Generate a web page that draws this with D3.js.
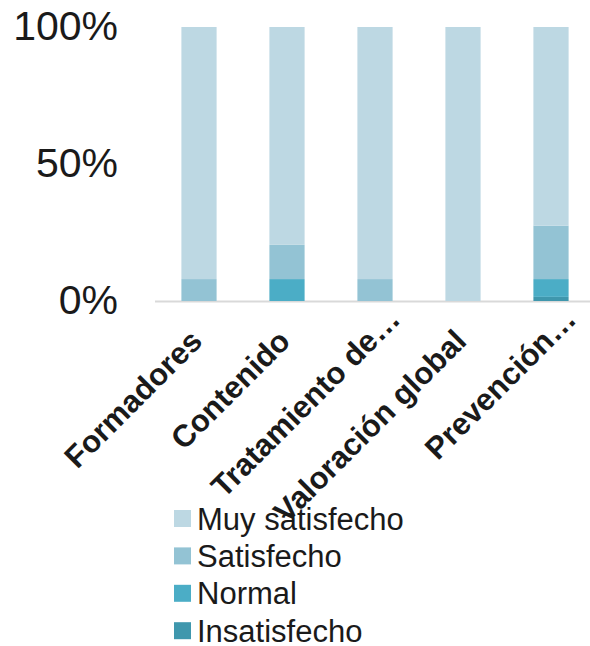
<!DOCTYPE html>
<html>
<head>
<meta charset="utf-8">
<script src="https://cdn.jsdelivr.net/npm/d3@7"></script>
<style>
  body { margin: 0; background: #fff; }
  svg { font-family: 'Liberation Sans', Arial, sans-serif; }
</style>
</head>
<body>
<div id="chart"></div>
<script>
// categories, series (bottom to top) and values in percent
const categories = ['Formadores', 'Contenido', 'Tratamiento de…', 'Valoración global', 'Prevención…']
const series = ['Insatisfecho', 'Normal', 'Satisfecho', 'Muy satisfecho']
const insatisfecho = [0, 0, 0, 0, 1.5]
const normal = [0, 8, 0, 0, 6.5]
const satisfecho = [8, 12.5, 8, 0, 19.5]
const muySatisfecho = [92, 79.5, 92, 100, 72.5]
const yTicks = [0, 0.5, 1]
const colors = ['#3f97ad', '#4badc6', '#93c3d4', '#bdd8e3']

const width = 590
const height = 646
const margin = { top: 27, left: 155 }
const y0 = 301

const table = categories.map(function (c, i) {
  return {
    cat: c,
    Insatisfecho: insatisfecho[i],
    Normal: normal[i],
    Satisfecho: satisfecho[i],
    'Muy satisfecho': muySatisfecho[i]
  }
})

const svg = d3.select('#chart')
  .append('svg')
  .attr('width', width)
  .attr('height', height)

const x = d3.scaleBand()
  .domain(categories)
  .range([margin.left, margin.left + 88 * categories.length])
  .paddingInner(0.6)
  .paddingOuter(0.3)

const y = d3.scaleLinear()
  .domain([0, 1])
  .range([y0, margin.top])

const color = d3.scaleOrdinal().domain(series).range(colors)

const stacked = d3.stack()
  .keys(series)
  .offset(d3.stackOffsetExpand)(table)

// baseline
svg.append('line')
  .attr('x1', margin.left)
  .attr('x2', width)
  .attr('y1', y(0) + 0.5)
  .attr('y2', y(0) + 0.5)
  .attr('stroke', '#d9d9d9')
  .attr('stroke-width', 2)

svg.append('g')
  .selectAll('g')
  .data(stacked)
  .join('g')
  .attr('fill', function (d) { return color(d.key) })
  .selectAll('rect')
  .data(function (d) { return d })
  .join('rect')
  .attr('x', function (d) { return x(d.data.cat) })
  .attr('y', function (d) { return y(d[1]) })
  .attr('width', x.bandwidth())
  .attr('height', function (d) { return y(d[0]) - y(d[1]) })

// y axis labels
const yAxis = svg.append('g')
  .attr('transform', 'translate(118,0)')
  .call(d3.axisLeft(y).tickValues(yTicks).tickFormat(d3.format('.0%')).tickSize(0).tickPadding(0))
yAxis.select('.domain').remove()
yAxis.selectAll('text')
  .attr('font-size', 41)
  .attr('font-family', "'Liberation Sans', Arial, sans-serif")
  .attr('fill', '#1a1a1a')
  .attr('dy', '0.3em')

// legend
const legend = svg.append('g')
  .selectAll('g')
  .data(series.slice().reverse())
  .join('g')
  .attr('transform', function (d, i) { return 'translate(174,' + (518.5 + i * 37.4) + ')' })

legend.append('rect')
  .attr('y', -8.5)
  .attr('width', 17)
  .attr('height', 17)
  .attr('fill', function (d) { return color(d) })

legend.append('text')
  .attr('x', 23)
  .attr('dy', '0.36em')
  .attr('font-size', 31)
  .attr('fill', '#1a1a1a')
  .text(function (d) { return d })

// x axis labels, rotated; a trailing ellipsis hangs past the tick
const xAxis = svg.append('g')
  .attr('transform', 'translate(0,' + (y0 + 42) + ')')
  .call(d3.axisBottom(x).tickSize(0).tickPadding(0))
xAxis.select('.domain').remove()
xAxis.selectAll('text')
  .attr('font-size', 31)
  .attr('font-weight', 'bold')
  .attr('font-family', "'Liberation Sans', Arial, sans-serif")
  .attr('fill', '#1a1a1a')
  .attr('text-anchor', 'end')
  .attr('y', 0)
  .attr('dy', 0)
  .attr('transform', 'translate(5,0) rotate(-45)')
  .each(function (d) {
    if (d.endsWith('…')) {
      const n = d.length
      const w = this.getSubStringLength(n - 1, 1)
      d3.select(this).attr('dx', w)
    }
  })
</script>
</body>
</html>
